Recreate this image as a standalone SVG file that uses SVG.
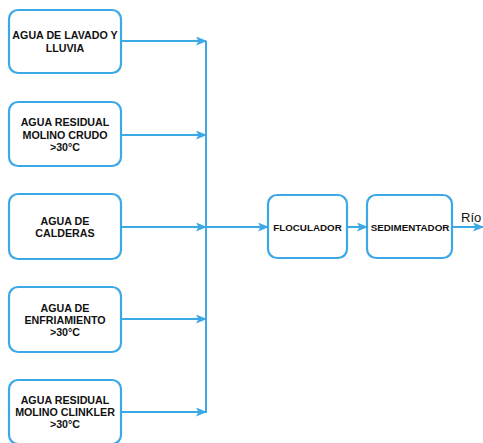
<svg xmlns="http://www.w3.org/2000/svg" width="483" height="443" viewBox="0 0 483 443">
<defs>
<marker id="ah" markerWidth="11" markerHeight="9" refX="10" refY="4.5" orient="auto" markerUnits="userSpaceOnUse">
<path d="M0,0 L11,4.5 L0,9 L2.5,4.5 Z" fill="#3DA8E6"/>
</marker>
<style>
.box{fill:#fff;stroke:#3DA8E6;stroke-width:2.2}
.t{font-family:"Liberation Sans",Arial,sans-serif;font-weight:bold;font-size:10.7px;fill:#111;text-anchor:middle}
.s{font-size:9.8px}
.c{fill:none;stroke:#3DA8E6;stroke-width:2}
.r{font-family:"Liberation Sans",Arial,sans-serif;font-size:13px;fill:#111}
</style>
</defs>
<rect width="483" height="443" fill="#fff"/>
<g id="n1"><rect class="box" x="9" y="10" width="112" height="63" rx="9"/><text class="t" x="65" y="39">AGUA DE LAVADO Y</text><text class="t" x="65" y="52">LLUVIA</text></g>
<g id="n2"><rect class="box" x="9" y="102" width="112" height="64" rx="9"/><text class="t" x="65" y="126">AGUA RESIDUAL</text><text class="t" x="65" y="139">MOLINO CRUDO</text><text class="t" x="65" y="151">&gt;30°C</text></g>
<g id="n3"><rect class="box" x="9" y="194" width="112" height="65" rx="9"/><text class="t" x="65" y="225">AGUA DE</text><text class="t" x="65" y="237">CALDERAS</text></g>
<g id="n4"><rect class="box" x="9" y="287" width="112" height="65" rx="9"/><text class="t" x="65" y="312">AGUA DE</text><text class="t" x="65" y="324">ENFRIAMIENTO</text><text class="t" x="65" y="336">&gt;30°C</text></g>
<g id="n5"><rect class="box" x="9" y="380" width="112" height="64" rx="9"/><text class="t" x="65" y="404">AGUA RESIDUAL</text><text class="t" x="65" y="416">MOLINO CLINKLER</text><text class="t" x="65" y="428">&gt;30°C</text></g>
<g id="n6"><rect class="box" x="268" y="195" width="79" height="63" rx="9"/><text class="t s" x="307.5" y="231">FLOCULADOR</text></g>
<g id="n7"><rect class="box" x="367" y="195" width="85" height="63" rx="9"/><text class="t s" x="410" y="231">SEDIMENTADOR</text></g>
<g id="connectors">
<path class="c" d="M206,41 V413"/>
<path class="c" d="M121,41 H206" marker-end="url(#ah)"/>
<path class="c" d="M121,135 H206" marker-end="url(#ah)"/>
<path class="c" d="M121,227 H206" marker-end="url(#ah)"/>
<path class="c" d="M121,319 H206" marker-end="url(#ah)"/>
<path class="c" d="M121,412 H206" marker-end="url(#ah)"/>
<path class="c" d="M206,227 H268" marker-end="url(#ah)"/>
<path class="c" d="M347,227 H367" marker-end="url(#ah)"/>
<path class="c" d="M452,227 H483" marker-end="url(#ah)"/>
<text class="r" x="461" y="222">Río</text>
</g>
</svg>
